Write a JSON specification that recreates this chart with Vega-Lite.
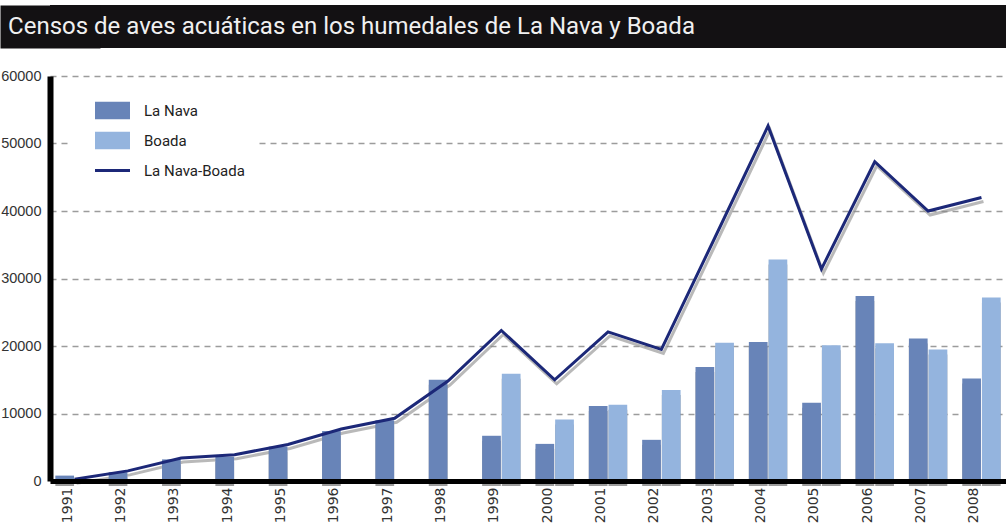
{
  "$schema": "https://vega.github.io/schema/vega-lite/v6.json",
  "background": "white",
  "padding": {"left": 0, "top": 5, "right": 0, "bottom": 0},
  "spacing": 20,
  "config": {"view": {"stroke": null}},
  "datasets": {
    "censos": [
      {"year": "1991", "La Nava": 800, "Boada": 0, "La Nava-Boada": 250},
      {"year": "1992", "La Nava": 1300, "Boada": 0, "La Nava-Boada": 1500},
      {"year": "1993", "La Nava": 3200, "Boada": 0, "La Nava-Boada": 3400},
      {"year": "1994", "La Nava": 3600, "Boada": 0, "La Nava-Boada": 3900},
      {"year": "1995", "La Nava": 5100, "Boada": 0, "La Nava-Boada": 5400},
      {"year": "1996", "La Nava": 7400, "Boada": 0, "La Nava-Boada": 7700},
      {"year": "1997", "La Nava": 9000, "Boada": 0, "La Nava-Boada": 9300},
      {"year": "1998", "La Nava": 15000, "Boada": 0, "La Nava-Boada": 14800},
      {"year": "1999", "La Nava": 6700, "Boada": 15900, "La Nava-Boada": 22300},
      {"year": "2000", "La Nava": 5500, "Boada": 9100, "La Nava-Boada": 15000},
      {"year": "2001", "La Nava": 11100, "Boada": 11300, "La Nava-Boada": 22100},
      {"year": "2002", "La Nava": 6100, "Boada": 13500, "La Nava-Boada": 19500},
      {"year": "2003", "La Nava": 16900, "Boada": 20500, "La Nava-Boada": 36000},
      {"year": "2004", "La Nava": 20600, "Boada": 32800, "La Nava-Boada": 52600},
      {"year": "2005", "La Nava": 11600, "Boada": 20100, "La Nava-Boada": 31400},
      {"year": "2006", "La Nava": 27400, "Boada": 20400, "La Nava-Boada": 47300},
      {"year": "2007", "La Nava": 21100, "Boada": 19500, "La Nava-Boada": 40000},
      {"year": "2008", "La Nava": 15200, "Boada": 27200, "La Nava-Boada": 42000}
    ],
    "header": [{"t": "Censos de aves acuáticas en los humedales de La Nava y Boada"}]
  },
  "vconcat": [
    {
      "width": 956,
      "height": 43,
      "view": {"fill": "#131113", "stroke": null},
      "data": {"name": "header"},
      "mark": {"type": "text", "align": "left", "baseline": "middle", "font": "Roboto, sans-serif", "fontSize": 24, "color": "#f0f0f0"},
      "encoding": {
        "text": {"field": "t"},
        "x": {"datum": -0.0439, "type": "quantitative", "scale": {"domain": [0, 1]}, "axis": null},
        "y": {"datum": 0.5, "type": "quantitative", "scale": {"domain": [0, 1]},
              "axis": {"title": null, "labels": false, "ticks": false, "grid": false, "domain": true, "domainWidth": 100, "domainColor": "#131113", "minExtent": 50, "maxExtent": 50, "zindex": 0}}
      }
    },
    {
      "width": 956,
      "height": 405,
      "data": {"name": "censos"},
      "encoding": {
        "x": {
          "field": "year", "type": "nominal", "sort": null,
          "scale": {"paddingInner": 0.28, "paddingOuter": 0.1},
          "axis": {"title": null, "labelAngle": -90, "labelPadding": 6, "labelOffset": -7, "ticks": false, "domainWidth": 5, "domainColor": "#000", "labelFont": "DejaVu Sans", "labelFontSize": 14, "labelColor": "#333", "zindex": 1}
        }
      },
      "layer": [
        {
          "transform": [{"fold": ["La Nava", "Boada"], "as": ["serie", "valor"]}],
          "mark": {"type": "bar", "color": "#4a4a4a", "opacity": 0.55, "xOffset": 4, "yOffset": 5},
          "encoding": {
            "xOffset": {"field": "serie", "type": "nominal", "scale": {"domain": ["La Nava", "Boada"], "paddingInner": 0.05}},
            "y": {"field": "valor", "type": "quantitative"}
          }
        },
        {
          "mark": {"type": "line", "color": "#8a8a8a", "strokeWidth": 3, "opacity": 0.6, "xOffset": 2, "yOffset": 4},
          "encoding": {
            "y": {"field": "La Nava-Boada", "type": "quantitative"}
          }
        },
        {
          "transform": [{"fold": ["La Nava", "Boada"], "as": ["serie", "valor"]}],
          "mark": {"type": "bar"},
          "encoding": {
            "xOffset": {"field": "serie", "type": "nominal", "scale": {"domain": ["La Nava", "Boada"], "paddingInner": 0.05}},
            "y": {
              "field": "valor", "type": "quantitative",
              "scale": {"domain": [0, 60000], "nice": false},
              "axis": {"title": null, "values": [0, 5000, 10000, 15000, 20000, 25000, 30000, 35000, 40000, 45000, 50000, 55000, 60000], "format": "d", "ticks": false, "domainWidth": 6, "domainColor": "#000", "labelFont": "Liberation Sans, Arial, sans-serif", "labelFontSize": 14.5, "labelColor": "#333", "labelPadding": 9, "minExtent": 50, "maxExtent": 50, "grid": true, "gridDash": [6, 5], "gridColor": "#9c9c9c", "gridWidth": 1.5}
            },
            "color": {
              "field": "serie", "type": "nominal",
              "scale": {"domain": ["La Nava", "Boada", "La Nava-Boada"], "range": ["#6884b8", "#94b4de", "#1c2878"]},
              "legend": {
                "title": null, "orient": "none", "legendX": 18, "legendY": 76,
                "fillColor": "white", "padding": 12, "symbolOffset": 15,
                "symbolSize": 1225, "symbolStrokeWidth": 0, "rowPadding": 3, "labelOffset": 14,
                "labelFont": "Roboto, sans-serif", "labelFontSize": 15, "labelColor": "#222",
                "encode": {"symbols": {"update": {"shape": {"signal": "datum.value === 'La Nava-Boada' ? 'M-1,-0.09H1V0.09H-1Z' : 'M-1,-0.5H1V0.5H-1Z'"}}}}
              }
            }
          }
        },
        {
          "mark": {"type": "line", "color": "#1c2878", "strokeWidth": 3},
          "encoding": {
            "y": {"field": "La Nava-Boada", "type": "quantitative"}
          }
        }
      ]
    }
  ]
}
